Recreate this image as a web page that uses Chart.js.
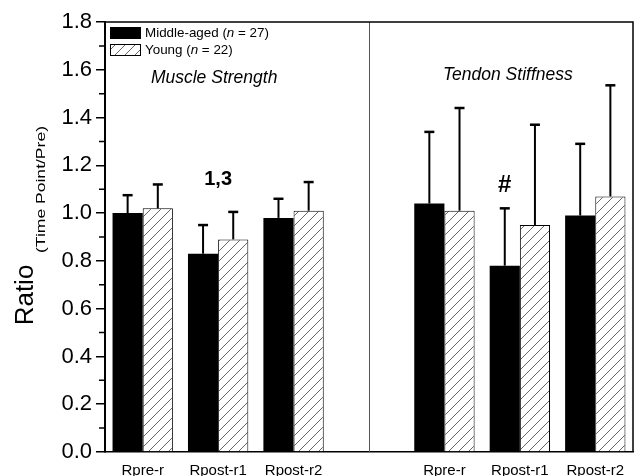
<!DOCTYPE html>
<html>
<head>
<meta charset="utf-8">
<script src="https://cdn.jsdelivr.net/npm/chart.js@4/dist/chart.umd.min.js"></script>
<style>
  html, body { margin: 0; padding: 0; background: #fff; }
  #wrap { width: 638px; height: 476px; }
</style>
</head>
<body>
<div id="wrap"><canvas id="c" width="638" height="476"></canvas></div>
<script>
// Ratio (time point / pre) per phase; index 3 is the gap between the two panels
const categories = ['Rpre-r', 'Rpost-r1', 'Rpost-r2', '', 'Rpre-r', 'Rpost-r1', 'Rpost-r2'];
const groupNames = ['Middle-aged', 'Young'];
const groupSizes = [27, 22];
const middleAged   = [1.00, 0.83, 0.98, null, 1.04, 0.78, 0.99];
const young        = [1.02, 0.89, 1.01, null, 1.01, 0.95, 1.07];
const middleAgedSD = [0.075, 0.12, 0.08, null, 0.30, 0.24, 0.30];
const youngSD      = [0.10, 0.115, 0.12, null, 0.43, 0.42, 0.465];
const yTicks = [0.0, 0.2, 0.4, 0.6, 0.8, 1.0, 1.2, 1.4, 1.6, 1.8];
const panelTitles = ['Muscle Strength', 'Tendon Stiffness'];
const sigMarks = [
  { index: 1, dataset: null, text: '1,3', value: 1.14, size: 20 },
  { index: 5, dataset: 0, text: '#', value: 1.115, size: 24 }
];
const errors = [middleAgedSD, youngSD];

const FONT = "'Liberation Sans', Arial, Helvetica, sans-serif";
Chart.defaults.font.family = FONT;
Chart.defaults.color = '#000';

// diagonal "/" hatch fill
function makeHatch() {
  const s = 10;
  const c = document.createElement('canvas');
  c.width = s; c.height = s;
  const g = c.getContext('2d');
  g.fillStyle = '#fff';
  g.fillRect(0, 0, s, s);
  g.strokeStyle = '#555';
  g.lineWidth = 0.9;
  g.beginPath();
  g.moveTo(0, s); g.lineTo(s, 0);
  g.moveTo(-1, 1); g.lineTo(1, -1);
  g.moveTo(s - 1, s + 1); g.lineTo(s + 1, s - 1);
  g.stroke();
  return g.createPattern(c, 'repeat');
}
const hatch = makeHatch();

// frame, panel divider and minor ticks
const framePlugin = {
  id: 'frame',
  afterDatasetsDraw(chart) {
    const { ctx, chartArea: a, scales: { x, y } } = chart;
    ctx.save();
    // divider between panels
    const xd = Math.round(x.getPixelForValue(3)) + 0.5;
    ctx.strokeStyle = '#555';
    ctx.lineWidth = 1;
    ctx.beginPath();
    ctx.moveTo(xd, a.top); ctx.lineTo(xd, a.bottom);
    ctx.stroke();
    // top and right edges
    ctx.strokeStyle = '#000';
    ctx.lineWidth = 1.5;
    ctx.beginPath();
    ctx.moveTo(a.left, a.top); ctx.lineTo(a.right, a.top); ctx.lineTo(a.right, a.bottom);
    ctx.stroke();
    // minor ticks on the y axis
    ctx.lineWidth = 1.5;
    ctx.beginPath();
    for (let i = 0; i < yTicks.length - 1; i++) {
      const v = (yTicks[i] + yTicks[i + 1]) / 2;
      const py = y.getPixelForValue(v);
      ctx.moveTo(a.left - 6, py); ctx.lineTo(a.left, py);
    }
    ctx.stroke();
    ctx.restore();
  }
};

// upward SD whiskers
const errorBarPlugin = {
  id: 'errorBars',
  afterDatasetsDraw(chart) {
    const { ctx, scales: { y } } = chart;
    ctx.save();
    ctx.strokeStyle = '#000';
    chart.data.datasets.forEach((ds, i) => {
      const meta = chart.getDatasetMeta(i);
      meta.data.forEach((bar, j) => {
        const v = ds.data[j], e = errors[i][j];
        if (v == null || e == null) return;
        const top = y.getPixelForValue(v + e);
        ctx.lineWidth = 2;
        ctx.beginPath();
        ctx.moveTo(bar.x, bar.y); ctx.lineTo(bar.x, top);
        ctx.stroke();
        ctx.lineWidth = 2.5;
        ctx.beginPath();
        ctx.moveTo(bar.x - 5, top); ctx.lineTo(bar.x + 5, top);
        ctx.stroke();
      });
    });
    ctx.restore();
  }
};

// panel titles, significance marks, legend and y-axis title
const textPlugin = {
  id: 'texts',
  afterDraw(chart) {
    const { ctx, chartArea: a, scales: { x, y } } = chart;
    ctx.save();
    ctx.fillStyle = '#000';
    ctx.textAlign = 'center';
    ctx.textBaseline = 'middle';

    ctx.font = 'italic 17.5px ' + FONT;
    ctx.fillText(panelTitles[0], x.getPixelForValue(1) - 4, y.getPixelForValue(1.566));
    ctx.fillText(panelTitles[1], x.getPixelForValue(5) - 12, y.getPixelForValue(1.578));

    sigMarks.forEach(m => {
      ctx.font = 'bold ' + m.size + 'px ' + FONT;
      let px = x.getPixelForValue(m.index);
      if (m.dataset != null) px = chart.getDatasetMeta(m.dataset).data[m.index].x;
      ctx.fillText(m.text, px, y.getPixelForValue(m.value));
    });

    // legend
    const lx = a.left + 5, bw = 31, bh = 12;
    chart.data.datasets.forEach((ds, i) => {
      const ty = a.top + 5 + i * 17;
      ctx.fillStyle = ds.backgroundColor;
      ctx.fillRect(lx, ty, bw, bh);
      if (ds.borderWidth) {
        ctx.strokeStyle = '#000';
        ctx.lineWidth = 1;
        ctx.strokeRect(lx + 0.5, ty + 0.5, bw - 1, bh - 1);
      }
      ctx.fillStyle = '#000';
      ctx.textAlign = 'left';
      ctx.textBaseline = 'middle';
      let tx = lx + bw + 4;
      const cy = ty + bh / 2 + 0.5;
      const parts = [[groupNames[i] + ' (', ''], ['n', 'italic '], [' = ' + groupSizes[i] + ')', '']];
      parts.forEach(([t, st]) => {
        ctx.font = st + '13.4px ' + FONT;
        ctx.fillText(t, tx, cy);
        tx += ctx.measureText(t).width;
      });
    });

    // y-axis title with subscript
    ctx.save();
    ctx.translate(33, 295);
    ctx.rotate(-Math.PI / 2);
    ctx.textAlign = 'center';
    ctx.textBaseline = 'alphabetic';
    ctx.font = '26px ' + FONT;
    ctx.fillText('Ratio', 0, 0);
    ctx.restore();

    ctx.save();
    ctx.translate(45, 253);
    ctx.rotate(-Math.PI / 2);
    ctx.textAlign = 'left';
    ctx.textBaseline = 'alphabetic';
    ctx.font = '13px ' + FONT;
    const sub = '(Time Point/Pre)';
    const w = ctx.measureText(sub).width;
    ctx.scale(127 / w, 1);
    ctx.fillText(sub, 0, 0);
    ctx.restore();

    ctx.restore();
  }
};

new Chart(document.getElementById('c'), {
  type: 'bar',
  data: {
    labels: categories,
    datasets: [
      {
        label: groupNames[0],
        data: middleAged,
        backgroundColor: '#000',
        borderWidth: 0,
        barPercentage: 1.0,
        categoryPercentage: 0.8
      },
      {
        label: groupNames[1],
        data: young,
        backgroundColor: hatch,
        borderColor: '#000',
        borderWidth: 1,
        barPercentage: 1.0,
        categoryPercentage: 0.8
      }
    ]
  },
  options: {
    responsive: false,
    animation: false,
    devicePixelRatio: 1,
    layout: { padding: { top: 22, right: 5, left: 0, bottom: 0 } },
    plugins: { legend: { display: false }, tooltip: { enabled: false } },
    scales: {
      x: {
        type: 'category',
        offset: true,
        grid: { display: false, drawTicks: false },
        border: { display: true, color: '#000', width: 1.5 },
        ticks: { color: '#000', font: { size: 15 }, padding: 10, maxRotation: 0, autoSkip: false },
        afterFit(s) { s.height = 24; }
      },
      y: {
        min: 0,
        max: 1.8,
        grid: { drawOnChartArea: false, drawTicks: true, tickLength: 9, color: '#000', lineWidth: 1.5 },
        border: { display: true, color: '#000', width: 2 },
        ticks: { color: '#000', font: { size: 22 }, padding: 4, callback: v => Number(v).toFixed(1) },
        afterBuildTicks(s) { s.ticks = yTicks.map(v => ({ value: v })); },
        afterFit(s) { s.width = 105; }
      }
    }
  },
  plugins: [framePlugin, errorBarPlugin, textPlugin]
});
</script>
</body>
</html>
